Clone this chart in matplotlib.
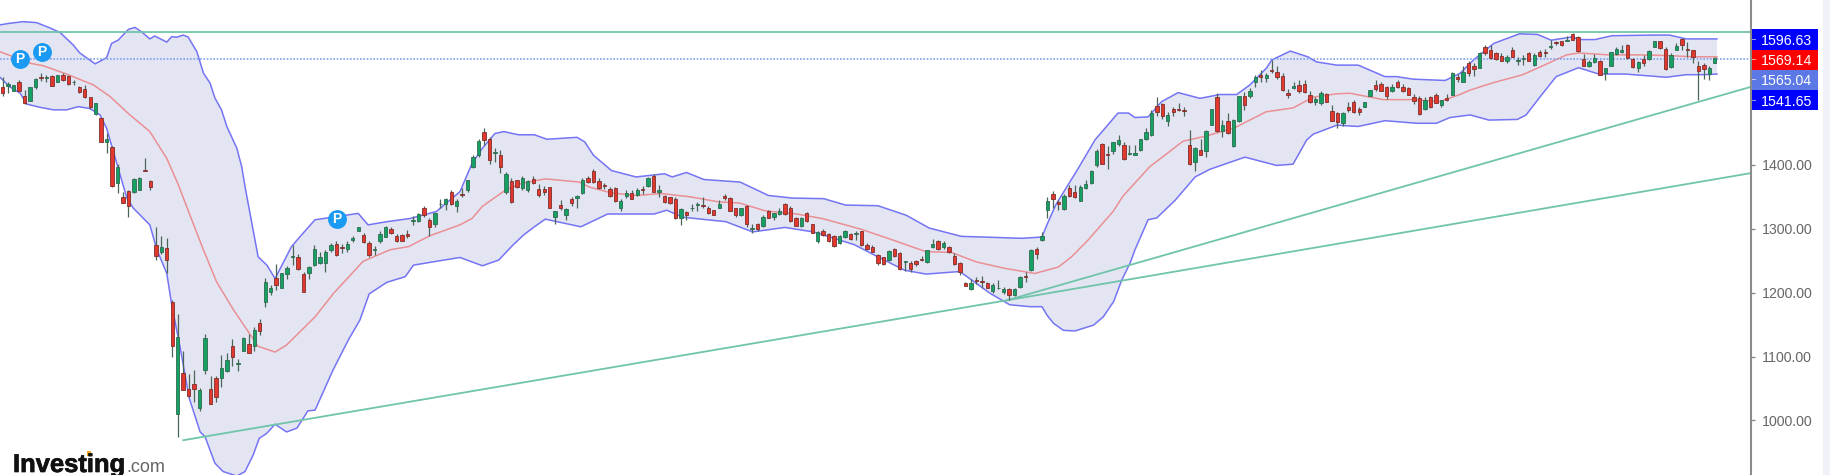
import numpy as np
from matplotlib import pyplot as plt
from matplotlib.patches import Rectangle
import matplotlib.patheffects as pe

plt.rcParams['font.family'] = ['Liberation Sans', 'DejaVu Sans']

W, H = 1831, 475

opens = [1521,1523,1516,1529,1508,1500,1521,1538,1536,1539,
    1530,1541,1539,1529,1521,1519,1506,1480,1474,1436,
    1428,1371,1350,1359,1357,1361,1392,1374,1274,1263,
    1270,1186,1010,1074,1049,1057,1019,1079,1049,1066,
    1066,1077,1116,1088,1109,1119,1116,1152,1186,1201,
    1223,1208,1229,1255,1256,1229,1230,1243,1247,1247,
    1266,1276,1272,1268,1283,1297,1290,1277,1266,1280,
    1287,1300,1289,1290,1292,1312,1312,1333,1313,1307,
    1338,1338,1358,1335,1355,1360,1396,1415,1451,1441,
    1418,1415,1358,1375,1376,1363,1360,1378,1362,1362,
    1365,1318,1337,1321,1346,1348,1356,1380,1390,1375,
    1369,1362,1363,1332,1351,1356,1353,1362,1367,1382,
    1358,1351,1349,1346,1316,1326,1332,1337,1337,1333,
    1329,1333,1351,1348,1332,1322,1335,1300,1307,1305,
    1327,1318,1323,1338,1332,1316,1304,1324,1307,1280,
    1297,1292,1289,1277,1287,1292,1292,1296,1275,1272,
    1259,1255,1251,1269,1262,1248,1247,1249,1253,1248,
    1271,1281,1271,1272,1257,1247,1215,1206,1220,1218,
    1215,1202,1207,1201,1206,1197,1209,1226,1235,1269,
    1282,1329,1355,1342,1331,1363,1358,1344,1363,1371,
    1399,1432,1417,1421,1432,1431,1417,1416,1423,1440,
    1447,1492,1495,1469,1488,1487,1486,1431,1405,1423,
    1421,1463,1506,1453,1468,1429,1468,1507,1508,1529,
    1541,1536,1548,1546,1539,1512,1520,1525,1527,1509,
    1499,1496,1511,1484,1481,1466,1491,1499,1487,1491,
    1508,1525,1526,1521,1516,1529,1521,1520,1506,1505,
    1487,1506,1510,1493,1505,1510,1537,1530,1560,1555,
    1552,1584,1580,1575,1570,1563,1580,1563,1565,1575,
    1556,1577,1577,1585,1592,1593,1594,1604,1600,1566,
    1554,1561,1563,1543,1555,1573,1576,1587,1565,1551,
    1565,1565,1585,1593,1582,1553,1580,1597,1581,1579,
    1555,1556,1542,1560]

closes = [1512,1526,1525,1515,1497,1521,1535,1536,1538,1524,
    1541,1532,1526,1530,1514,1506,1490,1496,1436,1440,
    1367,1396,1341,1336,1378,1380,1390,1365,1257,1271,
    1251,1117,1130,1048,1038,1049,1048,1129,1026,1036,
    1082,1094,1100,1090,1129,1106,1142,1140,1217,1207,
    1212,1230,1239,1257,1237,1201,1240,1269,1255,1264,
    1274,1259,1270,1276,1285,1303,1279,1259,1269,1291,
    1302,1294,1281,1281,1288,1314,1323,1322,1303,1324,
    1339,1346,1339,1344,1353,1376,1412,1438,1439,1408,
    1420,1397,1386,1342,1366,1379,1374,1372,1353,1357,
    1333,1327,1332,1331,1340,1351,1377,1373,1373,1363,
    1367,1351,1343,1343,1356,1347,1361,1361,1379,1358,
    1360,1342,1340,1316,1331,1322,1333,1338,1335,1324,
    1322,1339,1348,1328,1321,1332,1307,1301,1300,1319,
    1317,1324,1328,1323,1312,1305,1317,1312,1294,1295,
    1290,1281,1273,1288,1296,1284,1293,1275,1269,1264,
    1247,1245,1265,1257,1237,1249,1237,1244,1251,1266,
    1276,1268,1277,1264,1244,1233,1211,1215,1218,1216,
    1208,1212,1208,1205,1196,1205,1224,1224,1267,1260,
    1288,1343,1346,1338,1351,1351,1349,1366,1370,1390,
    1422,1402,1416,1435,1439,1409,1418,1419,1440,1451,
    1481,1483,1476,1478,1482,1486,1484,1401,1426,1416,
    1453,1488,1453,1462,1449,1470,1508,1493,1515,1537,
    1537,1541,1547,1537,1517,1510,1523,1516,1514,1498,
    1503,1513,1499,1469,1467,1481,1486,1482,1482,1498,
    1517,1518,1516,1508,1522,1522,1515,1510,1500,1479,
    1501,1491,1497,1501,1502,1544,1534,1545,1543,1550,
    1575,1575,1567,1566,1563,1568,1569,1564,1567,1563,
    1572,1571,1575,1586,1590,1587,1595,1596,1578,1555,
    1561,1567,1541,1551,1576,1581,1580,1567,1553,1561,
    1560,1578,1593,1583,1550,1572,1586,1587,1580,1569,
    1547,1550,1551,1567]

highs = [1538,1529,1525,1533,1517,1521,1536,1543,1541,1541,
    1541,1543,1540,1533,1523,1525,1506,1497,1475,1449,
    1429,1402,1358,1361,1380,1381,1410,1376,1302,1288,
    1285,1189,1167,1108,1073,1079,1051,1136,1069,1070,
    1102,1105,1127,1096,1131,1135,1146,1159,1223,1212,
    1245,1230,1241,1275,1261,1233,1242,1275,1263,1266,
    1277,1281,1276,1281,1289,1303,1293,1280,1273,1296,
    1304,1303,1292,1292,1298,1320,1324,1336,1316,1325,
    1347,1348,1361,1346,1363,1377,1415,1440,1457,1443,
    1426,1423,1388,1380,1377,1382,1377,1382,1370,1367,
    1366,1328,1345,1332,1349,1353,1379,1382,1394,1380,
    1372,1365,1366,1346,1360,1360,1363,1367,1381,1385,
    1368,1353,1350,1349,1332,1327,1339,1342,1349,1336,
    1330,1345,1354,1349,1333,1333,1337,1307,1309,1321,
    1329,1325,1333,1340,1335,1319,1318,1326,1308,1297,
    1300,1294,1290,1290,1298,1294,1297,1297,1277,1275,
    1261,1256,1267,1270,1263,1249,1250,1251,1258,1267,
    1284,1282,1280,1273,1262,1248,1217,1222,1225,1226,
    1217,1215,1220,1209,1207,1207,1226,1233,1269,1272,
    1295,1349,1359,1345,1355,1368,1368,1368,1377,1392,
    1424,1434,1429,1436,1447,1436,1431,1431,1441,1457,
    1485,1506,1496,1482,1491,1496,1491,1455,1428,1441,
    1455,1488,1513,1470,1481,1471,1508,1514,1520,1541,
    1549,1543,1564,1554,1544,1518,1530,1532,1532,1516,
    1506,1515,1513,1494,1483,1482,1499,1501,1490,1499,
    1517,1532,1529,1523,1527,1533,1527,1522,1511,1507,
    1506,1508,1512,1502,1511,1545,1542,1555,1563,1559,
    1576,1587,1587,1576,1575,1572,1585,1568,1572,1576,
    1575,1580,1581,1595,1594,1594,1602,1607,1601,1573,
    1564,1574,1564,1552,1577,1585,1588,1589,1567,1563,
    1572,1580,1594,1594,1584,1575,1590,1599,1592,1580,
    1563,1560,1555,1569]

lows = [1508,1512,1516,1515,1495,1500,1518,1531,1530,1523,
    1530,1531,1525,1525,1512,1504,1487,1478,1435,1418,
    1366,1356,1340,1319,1356,1360,1390,1361,1251,1260,
    1231,1099,974,1047,1037,1029,1014,1073,1025,1029,
    1053,1076,1085,1077,1108,1106,1108,1134,1177,1196,
    1204,1208,1222,1243,1236,1201,1222,1241,1245,1233,
    1263,1258,1262,1263,1279,1297,1278,1255,1259,1278,
    1287,1292,1279,1280,1286,1306,1310,1319,1288,1303,
    1332,1330,1337,1326,1350,1358,1395,1413,1431,1402,
    1405,1387,1355,1341,1363,1361,1358,1370,1349,1353,
    1333,1307,1330,1314,1335,1333,1355,1372,1372,1362,
    1362,1350,1342,1328,1348,1346,1351,1354,1366,1357,
    1350,1340,1339,1315,1306,1314,1328,1328,1333,1323,
    1321,1332,1345,1327,1318,1320,1303,1294,1297,1302,
    1316,1314,1322,1322,1311,1304,1303,1311,1293,1278,
    1289,1279,1272,1276,1286,1283,1282,1273,1266,1263,
    1243,1243,1250,1256,1236,1234,1233,1242,1250,1247,
    1270,1267,1269,1262,1243,1228,1210,1204,1214,1208,
    1207,1199,1206,1198,1188,1194,1208,1217,1234,1252,
    1280,1316,1333,1329,1329,1350,1348,1343,1362,1370,
    1397,1401,1394,1417,1430,1408,1416,1415,1422,1439,
    1445,1476,1471,1461,1476,1484,1476,1400,1390,1415,
    1412,1463,1452,1444,1448,1428,1467,1486,1504,1522,
    1530,1530,1543,1535,1516,1504,1519,1513,1513,1496,
    1493,1494,1498,1468,1457,1460,1482,1481,1478,1490,
    1508,1516,1515,1503,1514,1520,1514,1509,1495,1478,
    1486,1489,1496,1491,1500,1509,1530,1529,1539,1539,
    1551,1572,1566,1564,1562,1560,1568,1556,1556,1562,
    1555,1569,1568,1581,1588,1586,1593,1595,1576,1554,
    1553,1560,1540,1532,1554,1572,1575,1566,1551,1546,
    1555,1564,1584,1582,1549,1552,1579,1579,1569,1560,
    1502,1534,1532,1559]

upper_bars = [-0.5,1.3,3.8,6.2,8.7,10.5,12.9,14.1,16.9,19,19.9,21.1,23,24.2,25.4,26.9,27.8,30,30.9,31.8,
    33,33.9,35.5,36.7,37.9,38.8,40,41,42.8,43.7,44.3,46.7,48.3,49.8,52.8,54.4,57.1,61.1,65,66.8,
    70.2,74.5,79.3,83.6,85.8,87.7,90,91.6,94.3,97.2,99.5,105,106.4,108,111.3,115.8,121,122.4,125,128.2,
    134.8,140,144.3,150.1,154.1,160,165.2,169.4,175.3,179.2,186.3,190,190.9,192.5,196.6,199.7,203.9,205.8,207,209.4,
    211.9,214.9,218.9,222.5,225.6,228,231,232,235.4,238.6,240.2,243.9,247.8,252.7,254.8,257.9,263.7,266.4,268.9,272.6,
    277.3,280.6,283.1,286.8,288.4,291.1,294.2,301.6,304.7,307.8,313.4]
upper_band = [1619,1621.5,1624,1622.5,1614,1607,1587.5,1575,1558,1567.6,1590,1595,1612,1615,1608,1597,1601.6,1592,1600.5,1599.6,
    1603,1600,1577,1543.6,1528,1504.5,1486,1459.6,1426,1397,1366,1256,1243,1222,1272,1288,1314,1319,1324,1306,
    1311,1316,1327,1358,1402,1426,1449,1452,1447,1447,1440,1443,1436,1415,1391,1381,1386,1381,1388,1377,
    1373,1352,1348,1347,1337,1336,1321,1301,1288,1287,1285,1287,1306,1337,1394,1439,1481,1481,1474,1475,
    1499,1513,1504,1510,1510,1525,1551,1564,1578,1569,1561,1556,1556,1538,1538,1534,1532,1543,1564,1590,
    1605,1604,1595,1600,1596,1596,1602,1603,1603,1597,1597]

lower_bars = [-0.5,1.3,3.2,4.4,6.8,9.3,11.7,13.8,16,17.8,19,20.5,22.7,23.9,26.9,28.2,30,30.9,32.4,34.1,
    36.1,37,38.8,40.3,42.8,44.3,45.8,46.9,48.3,49.8,51.9,53.8,55.8,57.1,60.4,63.2,65.3,67,70.2,73.6,75.1,79.3,
    83.6,87.7,90.7,93,95.2,97.2,99.2,105.7,110.6,119.1,121.4,124.3,132.2,137.1,143,148.2,155.7,160,164.9,168.8,
    175,180.5,184.1,187.8,190,190.9,192.1,193.9,196,199.4,201.2,203.1,204.6,206.1,207,209.4,211,214.4,218,220.7,227.1,232.9,235.9,238.4,
    239.6,243.9,247.8,252.7,258.5,262.1,264.6,268.3,271.7,276.9,278.5,281.3,284,288.1,291.8,296.7,304.1,307.8,310.9,313.4]
lower_band = [1537,1522,1512,1495,1490,1486,1486,1491,1488,1478,1457,1413,1348,1332,1306,1267,1230,1181,1116,1035,
    982,974.5,933,920,913,920,946,972,980,994,982,988,1015,1016,1079,1126,1157,1198,1216,1225,1243,1249,
    1255,1242,1251,1272,1290,1303,1315,1303,1323,1323,1329,1318,1311,1295,1302,1295,1275,1256,1235,1229,
    1233,1199,1181,1178,1178,1165,1152,1141,1140,1149,1162,1186,1220,1246,1267,1314,1317,1345,1381,1393,1412,1399,1401,1439,
    1448,1462,1460,1469,1465,1465,1474,1478,1470,1471,1478,1509,1538,1552,1542,1542,1537,1541,1541,1542]

mid_bars = [-0.5,5,7.4,11.7,16.6,19.6,23,26.9,30,32.1,34.2,36.7,39.1,42.2,46.7,49.8,51.9,57.1,60.5,65.9,
    70.8,74.2,78.1,83.6,85.8,87.7,92,94.9,99.2,105.4,107.3,111.3,115.8,120.4,125.6,130.9,134.8,139.4,145.2,149.8,
    157,163.5,168.8,173.4,178,183.2,188.7,193,195.4,198.4,203,204.8,209.7,215.8,219.5,225,231,235.9,239.6,243.8,
    246.3,252.4,257.9,262.7,266.4,268.3,272.3,277.9,281.3,285.9,288.1,293.6,299.2,304.1,309,313.4]
mid_band = [1577,1559,1555,1542,1525,1507,1480,1452,1410,1369,1322,1267,1217,1173,1116,1107,1118,1162,1199,1249,
    1267,1272,1289,1306,1316,1335,1361,1371,1378,1373,1365,1356,1352,1355,1350,1342,1340,1328,1323,1316,
    1299,1280,1264,1263,1248,1238,1230,1240,1256,1282,1327,1351,1397,1437,1444,1457,1483,1489,1506,1511,
    1512,1502,1502,1499,1510,1517,1528,1541,1554,1572,1575,1572,1572,1571,1569,1569]

# drawn trend lines, bar index / price
trend_a_bars = [33, 183.6, 319.6]
trend_a = [969, 1188, 1522]
trend_b_bars = [183.6, 319.6]
trend_b = [1188, 1387]
hline_price = 1608
last_price = 1566

pivot_bars = [3.2, 7.2, 61.1]
pivot_prices = [1565.6, 1576.6, 1315]

axis_ticks = [1000, 1100, 1200, 1300, 1400]
tag_values = ['1596.63', '1569.14', '1565.04', '1541.65']
tag_colors = ['#0000ff', '#ff0000', '#5b78e4', '#0000ff']
tag_edges = [29, 50, 69.5, 90, 110]
tag_ticks = [21, 39, 59, 79]


def make_plot():
    fig = plt.figure(figsize=(W / 100, H / 100), dpi=100)
    axis_x = 1751.5
    ax = fig.add_axes([0, 0, axis_x / W, 1])
    ax.set_xlim(-0.49, (axis_x - 2.67) / 5.47)
    ax.set_ylim(914.6, 1657.9)

    # bollinger band
    ax.fill(upper_bars + lower_bars[::-1], upper_band + lower_band[::-1], color='#e4e5f3', lw=0, zorder=1)
    ax.plot(upper_bars, upper_band, color='#7474f4', lw=1.1, zorder=2)
    ax.plot(lower_bars, lower_band, color='#7474f4', lw=1.1, zorder=2)
    ax.plot(mid_bars, mid_band, color='#ea8f93', lw=1.1, zorder=2)

    ax.axhline(hline_price, color='#6fc4aa', lw=1.3, zorder=2)
    ax.axhline(last_price, color='#7f9ff0', lw=1.2, ls=(0, (1, 1)), zorder=2)
    ax.plot(trend_a_bars, trend_a, color='#6fc4aa', lw=1.3, zorder=2)
    ax.plot(trend_b_bars, trend_b, color='#6fc4aa', lw=1.3, zorder=2)

    # candles
    o, c = np.array(opens), np.array(closes)
    x = np.arange(len(o))
    up = c >= o
    ax.vlines(x, lows, highs, color='#4a6657', lw=0.9, zorder=3)
    body = np.maximum(np.abs(c - o), 1)
    ax.bar(x[up], body[up], bottom=np.minimum(o, c)[up], width=0.62, color='#16a164',
           edgecolor='#2f6a50', lw=0.6, zorder=4)
    ax.bar(x[~up], body[~up], bottom=np.minimum(o, c)[~up], width=0.62, color='#e2382e',
           edgecolor='#7d2f2c', lw=0.6, zorder=4)

    # pivot markers
    ax.scatter(pivot_bars, pivot_prices, s=185, color='#1a9af2', lw=0, zorder=5)
    for bx, by in zip(pivot_bars, pivot_prices):
        ax.text(bx, by, 'P', color='white', fontsize=10, fontweight='bold', ha='center', va='center', zorder=6)

    # right price axis
    for side in ['top', 'left', 'bottom']:
        ax.spines[side].set_visible(False)
    ax.spines['right'].set_color('#8c8c8c')
    ax.spines['right'].set_linewidth(1.5)
    ax.set_xticks([])
    ax.yaxis.tick_right()
    ax.set_yticks(axis_ticks, [f'{t:.2f}' for t in axis_ticks])
    ax.tick_params(axis='y', length=3.2, width=1, color='#8c8c8c', labelsize=10.2, labelcolor='#666666', pad=4)

    for i, label in enumerate(tag_values):
        y0, y1 = tag_edges[i], tag_edges[i + 1]
        fig.add_artist(Rectangle(((axis_x + 0.5) / W, 1 - y1 / H), 66 / W, (y1 - y0) / H, color=tag_colors[i], lw=0))
        fig.text(1761 / W, 1 - (y0 + y1) / 2 / H, label, color='white', fontsize=10.2,
                 ha='left', va='center_baseline')
        fig.add_artist(Rectangle((1752 / W, 1 - (y0 + y1 + 1) / 2 / H), 4.5 / W, 1 / H, color='white', alpha=0.6, lw=0))

    # scrollbar strip
    fig.add_artist(Rectangle((1823 / W, 0), 8 / W, 1, color='#f0f2f7', lw=0))

    # logo
    stroke = [pe.withStroke(linewidth=0.5, foreground='#111111')]
    fig.text(13 / W, 1 - 472 / H, 'Investing', fontsize=18.4, fontweight='bold', color='#111111',
             ha='left', va='baseline', path_effects=stroke)
    fig.text(126 / W, 1 - 472 / H, '.com', fontsize=13, color='#666666', ha='left', va='baseline')
    fig.add_artist(Rectangle((87.5 / W, 1 - 456 / H), 3.5 / W, 5 / H, color='#f5a623', lw=0))

    fig.savefig('out.png', dpi=100)


if __name__ == '__main__':
    make_plot()
